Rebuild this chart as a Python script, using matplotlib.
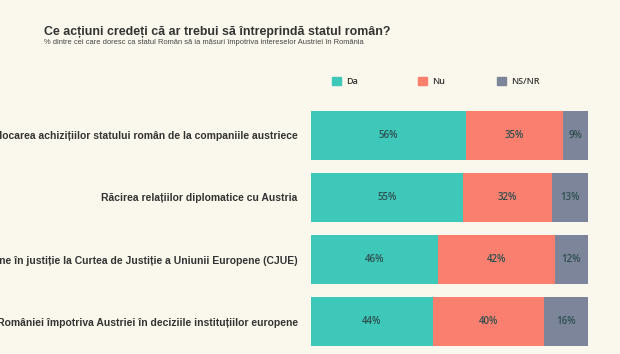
import matplotlib
matplotlib.use("Agg")
import matplotlib.pyplot as plt
from matplotlib.patches import Rectangle

categories = [
    "Relocarea achizițiilor statului român de la companiile austriece",
    "Răcirea relațiilor diplomatice cu Austria",
    "Acțiune în justiție la Curtea de Justiție a Uniunii Europene (CJUE)",
    "Votul României împotriva Austriei în deciziile instituțiilor europene",
]
series_names = ["Da", "Nu", "NS/NR"]
da = [56, 55, 46, 44]
nu = [35, 32, 42, 40]
nsnr = [9, 13, 12, 16]
colors = ["#3EC8BA", "#FA7F6E", "#7C8599"]
title = "Ce acțiuni credeți că ar trebui să întreprindă statul român?"
subtitle = "% dintre cei care doresc ca statul Român să ia măsuri împotriva intereselor Austriei în România"

bg = "#FAF8EC"
fig = plt.figure(figsize=(6.2, 3.54), dpi=100, facecolor=bg)
ax = fig.add_axes([311/620, 1-346/354, 277/620, 235/354])
ax.set_facecolor(bg)

ypos = list(range(len(categories)))
h = 0.79
lefts = [0]*len(categories)
for vals, col in zip([da, nu, nsnr], colors):
    bars = ax.barh(ypos, vals, left=lefts, height=h, color=col, edgecolor="none")
    for b, v in zip(bars, vals):
        ax.text(b.get_x() + b.get_width()/2, b.get_y() + b.get_height()/2, f"{v}%",
                ha="center", va="center", fontsize=7, color="#2f4f4f", family="Open Sans",
                fontweight="semibold")
    lefts = [l + v for l, v in zip(lefts, vals)]

ax.set_xlim(0, 100)
ax.set_ylim(3 + h/2, -h/2)
ax.set_yticks(ypos)
ax.set_yticklabels(categories, fontsize=7.5, fontweight="bold", color="#333333", family="Liberation Sans")
ax.tick_params(axis="y", length=0, pad=9.5)
ax.set_xticks([])
for s in ax.spines.values():
    s.set_visible(False)

fig.text(44/620, 1-32/354, title, fontsize=8.95, fontweight="bold", color="#333333",
         family="Liberation Sans", va="center", ha="left")
fig.text(44/620, 1-43/354, subtitle, fontsize=5.4, color="#444444",
         family="Liberation Sans", va="center", ha="left")

# legend
leg_x = [332, 418, 497]
for name, col, lx in zip(series_names, colors, leg_x):
    fig.patches.append(Rectangle((lx/620, 1-85/354), 8.5/620, 8.5/354, transform=fig.transFigure,
                                 color=col, figure=fig))
    fig.text((lx+14)/620, 1-81/354, name, fontsize=6.5, color="#333333", family="Open Sans",
             fontweight="semibold", va="center", ha="left")

fig.savefig("out.png", dpi=100, facecolor=bg)
